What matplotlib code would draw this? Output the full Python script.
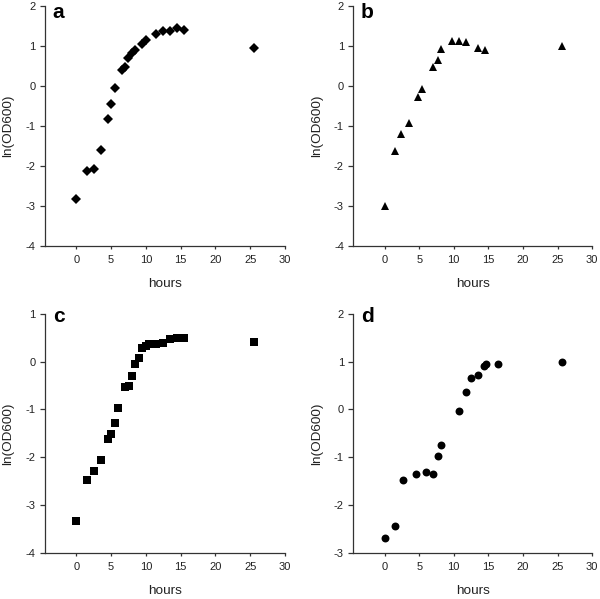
import matplotlib
matplotlib.use("Agg")
import matplotlib.pyplot as plt

plt.rcParams['font.family'] = ['Liberation Sans', 'DejaVu Sans']
plt.rcParams['axes.unicode_minus'] = False

# Panel a (diamonds)
a_hours = [0, 1.5, 2.5, 3.55, 4.5, 5.0, 5.5, 6.5, 7.05, 7.5, 8.0, 8.5, 9.5, 10.0,
           11.4, 12.5, 13.5, 14.5, 15.5, 25.5]
a_ln = [-2.84, -2.13, -2.08, -1.6, -0.84, -0.45, -0.05, 0.4, 0.48, 0.71, 0.82, 0.91,
        1.06, 1.14, 1.29, 1.38, 1.38, 1.44, 1.41, 0.94]

# Panel b (triangles)
b_hours = [0, 1.54, 2.35, 3.55, 4.85, 5.47, 7.0, 7.7, 8.2, 9.75, 10.75, 11.7, 13.45, 14.5, 25.6]
b_ln = [-3.0, -1.62, -1.21, -0.94, -0.275, -0.09, 0.48, 0.66, 0.93, 1.12, 1.13, 1.11,
        0.96, 0.9, 0.99]

# Panel c (squares)
c_hours = [0, 1.54, 2.54, 3.5, 4.5, 5.04, 5.52, 6.05, 7.0, 7.54, 8.0, 8.5, 9.0, 9.5,
           10.0, 10.5, 11.4, 12.5, 13.5, 14.5, 15.5, 25.5]
c_ln = [-3.33, -2.47, -2.29, -2.06, -1.62, -1.51, -1.28, -0.97, -0.54, -0.51, -0.31,
        -0.04, 0.08, 0.28, 0.33, 0.36, 0.38, 0.39, 0.47, 0.50, 0.50, 0.42]

# Panel d (circles)
d_hours = [0, 1.54, 2.64, 4.56, 6.0, 7.0, 7.68, 8.2, 10.75, 11.7, 12.5, 13.5, 14.4,
           14.6, 16.4, 25.6]
d_ln = [-2.69, -2.44, -1.48, -1.34, -1.31, -1.36, -0.97, -0.74, -0.04, 0.37, 0.65,
        0.72, 0.91, 0.95, 0.96, 1.0]

panels = [
    ("a", a_hours, a_ln, "D", 4.8, (-4, 2), [-4, -3, -2, -1, 0, 1, 2], 0.950),
    ("b", b_hours, b_ln, "^", 6.0, (-4, 2), [-4, -3, -2, -1, 0, 1, 2], 0.950),
    ("c", c_hours, c_ln, "s", 5.4, (-4, 1), [-4, -3, -2, -1, 0, 1], 0.968),
    ("d", d_hours, d_ln, "o", 5.7, (-3, 2), [-3, -2, -1, 0, 1, 2], 0.968),
]
xticks = [0, 5, 10, 15, 20, 25, 30]

fig = plt.figure(figsize=(6.0, 5.99), dpi=100)
positions = [
    (0.075, 0.590, 0.400, 0.400),
    (0.589, 0.590, 0.398, 0.400),
    (0.075, 0.077, 0.400, 0.399),
    (0.589, 0.077, 0.398, 0.399),
]

for (letter, xs, ys, mk, ms, ylim, yticks, ly), pos in zip(panels, positions):
    ax = fig.add_axes(pos)
    ax.plot(xs, ys, linestyle="none", marker=mk, markersize=ms, color="black",
            markeredgewidth=0, clip_on=False)
    ax.set_xlim(-4.5, 30)
    ax.set_ylim(*ylim)
    ax.set_xticks(xticks)
    ax.set_yticks(yticks)
    for s in ("top", "right"):
        ax.spines[s].set_visible(False)
    for s in ("left", "bottom"):
        ax.spines[s].set_color("#333333")
        ax.spines[s].set_linewidth(0.9)
    ax.tick_params(axis="y", direction="out", length=3.6, width=0.9,
                   color="#333333", labelsize=8, labelcolor="#222222", pad=3.2)
    ax.tick_params(axis="x", direction="out", length=2.3, width=0.9,
                   color="#333333", labelsize=8, labelcolor="#222222", pad=4.5)
    ax.set_xlabel("hours", fontsize=9.7, color="#222222")
    ax.set_ylabel("ln(OD600)", fontsize=9.7, color="#222222")
    ax.xaxis.set_label_coords(0.5, -0.135)
    ax.yaxis.set_label_coords(-0.128, 0.5)
    ax.text(0.032, ly, letter, transform=ax.transAxes, fontsize=15,
            fontweight="bold", va="baseline", ha="left")

fig.savefig("out.png", dpi=100)
